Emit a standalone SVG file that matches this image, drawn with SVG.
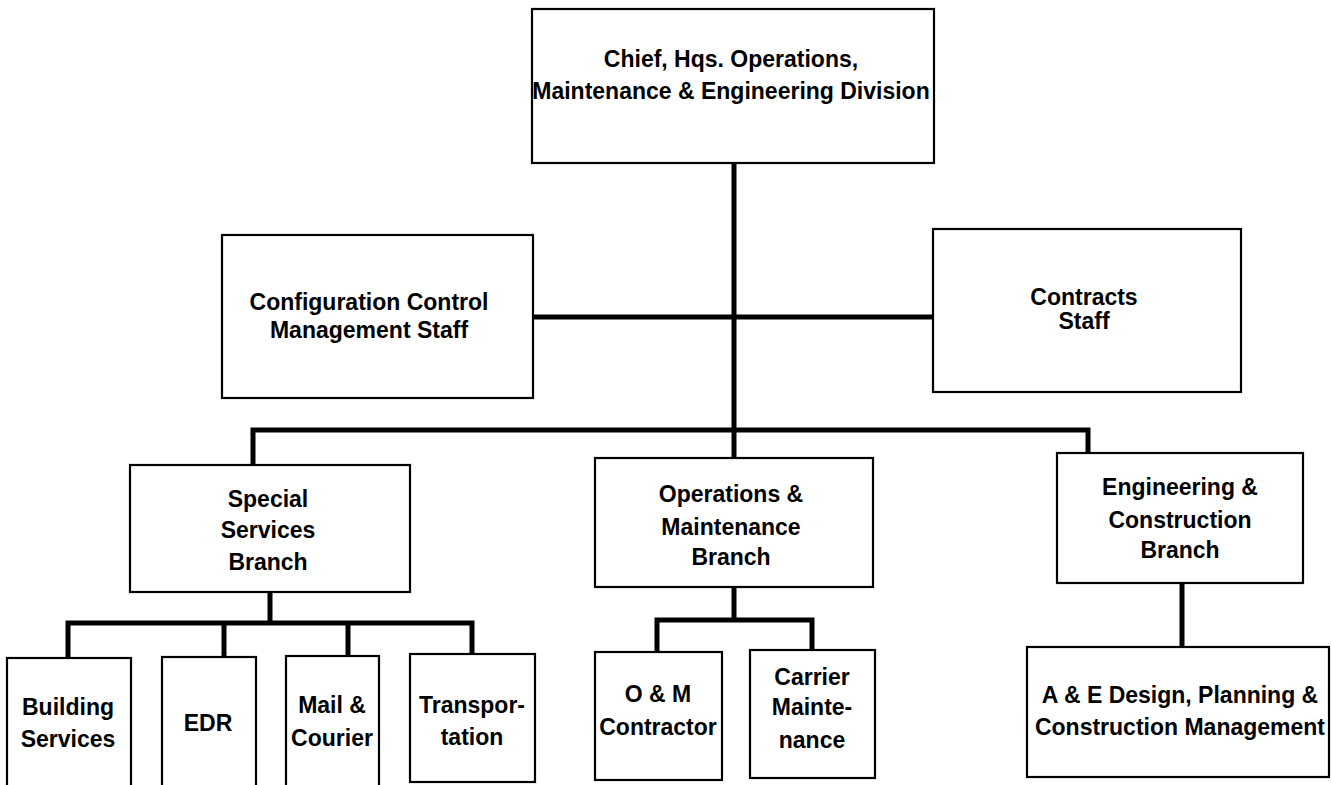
<svg xmlns="http://www.w3.org/2000/svg" width="1332" height="785" viewBox="0 0 1332 785">
<style>
.box{fill:#fff;stroke:#000;stroke-width:2.2}
.t{font-family:"Liberation Sans",Arial,sans-serif;font-weight:bold;font-size:23px;fill:#000;text-anchor:middle}
.c{fill:none;stroke:#000;stroke-width:5;stroke-linejoin:miter;stroke-linecap:butt}
</style>
<rect width="1332" height="785" fill="#fff"/>
<g id="connectors">
<path class="c" d="M734 163V430"/>
<path class="c" d="M533 317H933"/>
<path class="c" d="M253 465V430H1088V453"/>
<path class="c" d="M734 430V458"/>
<path class="c" d="M270 592V623"/>
<path class="c" d="M68 658V623H472V654"/>
<path class="c" d="M224 623V657"/>
<path class="c" d="M348 623V656"/>
<path class="c" d="M734 587V620"/>
<path class="c" d="M657 652V620H812V650"/>
<path class="c" d="M1182 583V647"/>
</g>
<g id="chief">
<rect class="box" x="532" y="9" width="402" height="154"/>
<text class="t" x="731" y="67">Chief, Hqs. Operations,</text>
<text class="t" x="731" y="99">Maintenance &amp; Engineering Division</text>
</g>
<g id="config">
<rect class="box" x="222" y="235" width="311" height="163"/>
<text class="t" x="369" y="310">Configuration Control</text>
<text class="t" x="369" y="338">Management Staff</text>
</g>
<g id="contracts">
<rect class="box" x="933" y="229" width="308" height="163"/>
<text class="t" x="1084" y="305">Contracts</text>
<text class="t" x="1084" y="329">Staff</text>
</g>
<g id="special">
<rect class="box" x="130" y="465" width="280" height="127"/>
<text class="t" x="268" y="507">Special</text>
<text class="t" x="268" y="538">Services</text>
<text class="t" x="268" y="570">Branch</text>
</g>
<g id="ops">
<rect class="box" x="595" y="458" width="278" height="129"/>
<text class="t" x="731" y="502">Operations &amp;</text>
<text class="t" x="731" y="535">Maintenance</text>
<text class="t" x="731" y="565">Branch</text>
</g>
<g id="eng">
<rect class="box" x="1057" y="453" width="246" height="130"/>
<text class="t" x="1180" y="495">Engineering &amp;</text>
<text class="t" x="1180" y="528">Construction</text>
<text class="t" x="1180" y="558">Branch</text>
</g>
<g id="building">
<rect class="box" x="7" y="658" width="124" height="140"/>
<text class="t" x="68" y="715">Building</text>
<text class="t" x="68" y="747">Services</text>
</g>
<g id="edr">
<rect class="box" x="162" y="657" width="94" height="140"/>
<text class="t" x="208" y="731">EDR</text>
</g>
<g id="mail">
<rect class="box" x="286" y="656" width="93" height="140"/>
<text class="t" x="332" y="713">Mail &amp;</text>
<text class="t" x="332" y="746">Courier</text>
</g>
<g id="transportation">
<rect class="box" x="410" y="654" width="125" height="128"/>
<text class="t" x="472" y="713">Transpor-</text>
<text class="t" x="472" y="745">tation</text>
</g>
<g id="om">
<rect class="box" x="595" y="652" width="127" height="128"/>
<text class="t" x="658" y="702">O &amp; M</text>
<text class="t" x="658" y="735">Contractor</text>
</g>
<g id="carrier">
<rect class="box" x="750" y="650" width="125" height="128"/>
<text class="t" x="812" y="685">Carrier</text>
<text class="t" x="812" y="715">Mainte-</text>
<text class="t" x="812" y="748">nance</text>
</g>
<g id="ae">
<rect class="box" x="1027" y="647" width="302" height="130"/>
<text class="t" x="1180" y="703">A &amp; E Design, Planning &amp;</text>
<text class="t" x="1180" y="735">Construction Management</text>
</g>
</svg>
